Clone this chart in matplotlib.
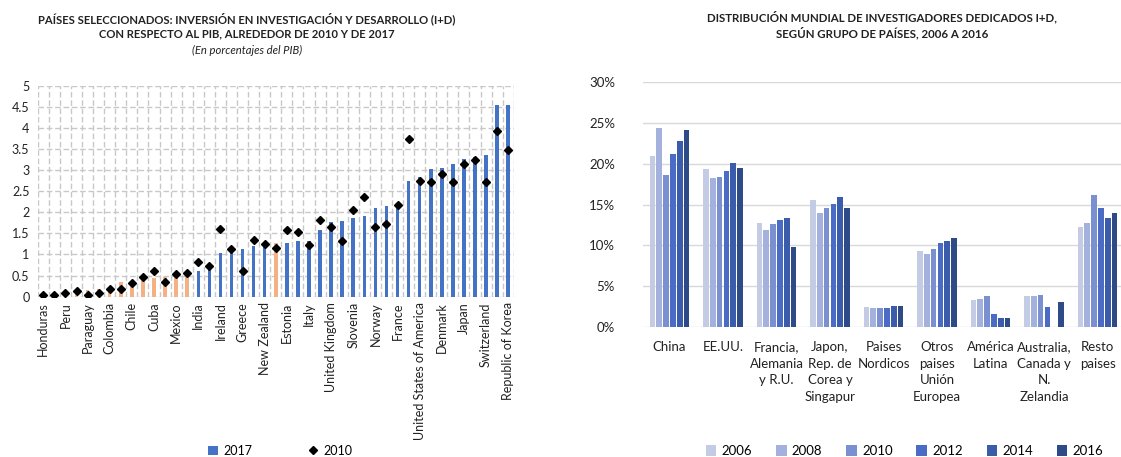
import numpy as np
import matplotlib.pyplot as plt
from matplotlib.lines import Line2D
from matplotlib.patches import Patch

plt.rcParams['font.family'] = ['Lato', 'DejaVu Sans']

# left chart: R&D spending as % of GDP (sorted by 2017)
countries = ["Honduras", "Guatemala", "Peru", "El Salvador", "Paraguay", "Panama",
             "Colombia", "Ecuador", "Chile", "Uruguay", "Cuba", "Costa Rica",
             "Mexico", "Argentina", "India", "South Africa", "Ireland", "Russia",
             "Greece", "Spain", "New Zealand", "Brazil", "Estonia", "Portugal",
             "Italy", "Canada", "United Kingdom", "Czech Republic", "Slovenia",
             "Australia", "Norway", "China", "France", "Finland",
             "United States of America", "Austria", "Denmark", "Germany", "Japan",
             "Sweden", "Switzerland", "Israel", "Republic of Korea"]
rd_2017 = [0.03, 0.03, 0.10, 0.15, 0.16, 0.17, 0.23, 0.35, 0.38, 0.49, 0.44,
           0.47, 0.53, 0.51, 0.60, 0.71, 1.04, 1.10, 1.12, 1.20, 1.20, 1.27,
           1.28, 1.31, 1.33, 1.58, 1.78, 1.80, 1.86, 1.92, 2.11, 2.14, 2.18,
           2.75, 2.85, 3.02, 3.05, 3.15, 3.26, 3.32, 3.35, 4.55, 4.55]
rd_2010 = [0.03, 0.03, 0.09, 0.14, 0.03, 0.08, 0.19, 0.19, 0.33, 0.47, 0.61,
           0.35, 0.53, 0.55, 0.81, 0.73, 1.60, 1.12, 0.60, 1.35, 1.25, 1.15,
           1.57, 1.53, 1.22, 1.82, 1.65, 1.33, 2.06, 2.37, 1.65, 1.72, 2.18,
           3.73, 2.75, 2.71, 2.92, 2.71, 3.14, 3.24, 2.71, 3.94, 3.47]
latam = ["Honduras", "Guatemala", "Peru", "El Salvador", "Paraguay", "Panama",
         "Colombia", "Ecuador", "Chile", "Uruguay", "Cuba", "Costa Rica",
         "Mexico", "Argentina", "Brazil"]

# right chart: share of world researchers by country group
groups = ["China", "EE.UU.", "Francia,\nAlemania\ny R.U.",
          "Japon,\nRep. de\nCorea y\nSingapur", "Paises\nNordicos",
          "Otros\npaises\nUnión\nEuropea", "América\nLatina",
          "Australia,\nCanada y\nN.\nZelandia", "Resto\npaises"]
years = ["2006", "2008", "2010", "2012", "2014", "2016"]
share = {
    "2006": [20.9, 19.3, 12.7, 15.5, 2.5, 9.35, 3.35, 3.8, 12.3],
    "2008": [24.3, 18.3, 11.9, 14.0, 2.3, 9.0, 3.45, 3.8, 12.7],
    "2010": [18.6, 18.35, 12.65, 14.6, 2.3, 9.5, 3.8, 3.95, 16.15],
    "2012": [21.2, 19.1, 13.05, 15.05, 2.35, 10.3, 1.6, 2.45, 14.6],
    "2014": [22.75, 20.1, 13.3, 15.9, 2.6, 10.6, 1.15, np.nan, 13.3],
    "2016": [24.1, 19.5, 9.8, 14.6, 2.6, 10.9, 1.15, 3.05, 14.0],
}
year_colors = ["#c4cbe5", "#a3b1dc", "#7a90d1", "#4a6cc4", "#3b5bab", "#2e4a87"]

fig = plt.figure(figsize=(11.21, 4.57), dpi=100)

# ---- left chart
ax1 = fig.add_axes([0.0337, 0.351, 0.4246, 0.461])
x = np.arange(len(countries))
cols = ["#f4b183" if c in latam else "#4472c4" for c in countries]
ax1.bar(x, rd_2017, width=0.32, color=cols, zorder=2)
ax1.plot(x, rd_2010, linestyle="none", marker="D", markersize=4.5,
         color="black", zorder=3)
ax1.set_xlim(-0.5, len(countries) - 0.5)
ax1.set_ylim(0, 5)
ax1.set_yticks(np.arange(0, 5.01, 0.5))
ax1.set_yticklabels(["0", "0.5", "1", "1.5", "2", "2.5", "3", "3.5", "4", "4.5", "5"])
ax1.set_xticks(x)
ax1.set_xticklabels([c if i % 2 == 0 else "" for i, c in enumerate(countries)],
                    rotation=90, fontsize=9, color="#222222")
ax1.set_xticks(np.arange(-0.5, len(countries), 1), minor=True)
ax1.tick_params(axis="x", which="both", length=0, pad=4)
ax1.tick_params(axis="y", length=0, labelsize=9, colors="#222222", pad=6)
ax1.set_axisbelow(True)
# dashed light grid, one vertical line between each pair of countries
ax1.yaxis.grid(True, which="major", color="#c8c8c8", linestyle=(0, (4, 2)),
               linewidth=1.0)
ax1.xaxis.grid(True, which="minor", color="#c8c8c8", linestyle=(0, (4, 2)),
               linewidth=1.0)
ax1.xaxis.grid(False, which="major")
for s in ax1.spines.values():
    s.set_visible(False)

fig.text(0.22, 0.958, "PAÍSES SELECCIONADOS: INVERSIÓN EN INVESTIGACIÓN Y DESARROLLO (I+D)",
         ha="center", va="center", fontsize=8.1, fontweight="bold", color="#222222")
fig.text(0.22, 0.925, "CON RESPECTO AL PIB, ALREDEDOR DE 2010 Y DE 2017",
         ha="center", va="center", fontsize=8.1, fontweight="bold", color="#222222")
fig.text(0.22, 0.89, "(En porcentajes del PIB)", ha="center", va="center",
         fontsize=8.1, style="italic", color="#222222")

h1 = [Patch(facecolor="#4472c4"),
      Line2D([], [], linestyle="none", marker="D", markersize=4.5, color="black")]
fig.legend(h1, ["2017", "2010"], loc="center", bbox_to_anchor=(0.25, 0.013),
           ncol=2, frameon=False, fontsize=9, handlelength=0.8, handleheight=0.8,
           columnspacing=4.5, handletextpad=0.4)

# ---- right chart
ax2 = fig.add_axes([0.5734, 0.284, 0.4295, 0.537])
g = np.arange(len(groups))
bw = 0.107
step = 0.127
for i, yr in enumerate(years):
    ax2.bar(g + (i - 2.5) * step, np.array(share[yr]) / 100, width=bw,
            color=year_colors[i], label=yr, zorder=2)
ax2.set_xlim(-0.5, len(groups) - 0.5)
ax2.set_ylim(0, 0.30)
ax2.set_yticks(np.arange(0, 0.301, 0.05))
ax2.set_yticklabels([f"{v}%" for v in range(0, 31, 5)])
ax2.set_xticks(g)
ax2.set_xticklabels(groups, fontsize=9.5, linespacing=1.45, color="#222222")
ax2.tick_params(axis="x", length=0, pad=10)
ax2.tick_params(axis="y", length=0, labelsize=9.5, colors="#222222", pad=20)
ax2.grid(axis="y", color="#d9d9d9", linewidth=1.0, zorder=0)
for s in ax2.spines.values():
    s.set_visible(False)

fig.text(0.787, 0.962, "DISTRIBUCIÓN MUNDIAL DE INVESTIGADORES DEDICADOS I+D,",
         ha="center", va="center", fontsize=8.3, fontweight="bold", color="#222222")
fig.text(0.787, 0.928, "SEGÚN GRUPO DE PAÍSES, 2006 A 2016",
         ha="center", va="center", fontsize=8.3, fontweight="bold", color="#222222")

fig.legend(*ax2.get_legend_handles_labels(), loc="center",
           bbox_to_anchor=(0.807, 0.013), ncol=6, frameon=False, fontsize=9.5,
           handlelength=0.8, handleheight=0.8, columnspacing=1.8, handletextpad=0.4)

fig.savefig("out.png", dpi=100, facecolor="white")
